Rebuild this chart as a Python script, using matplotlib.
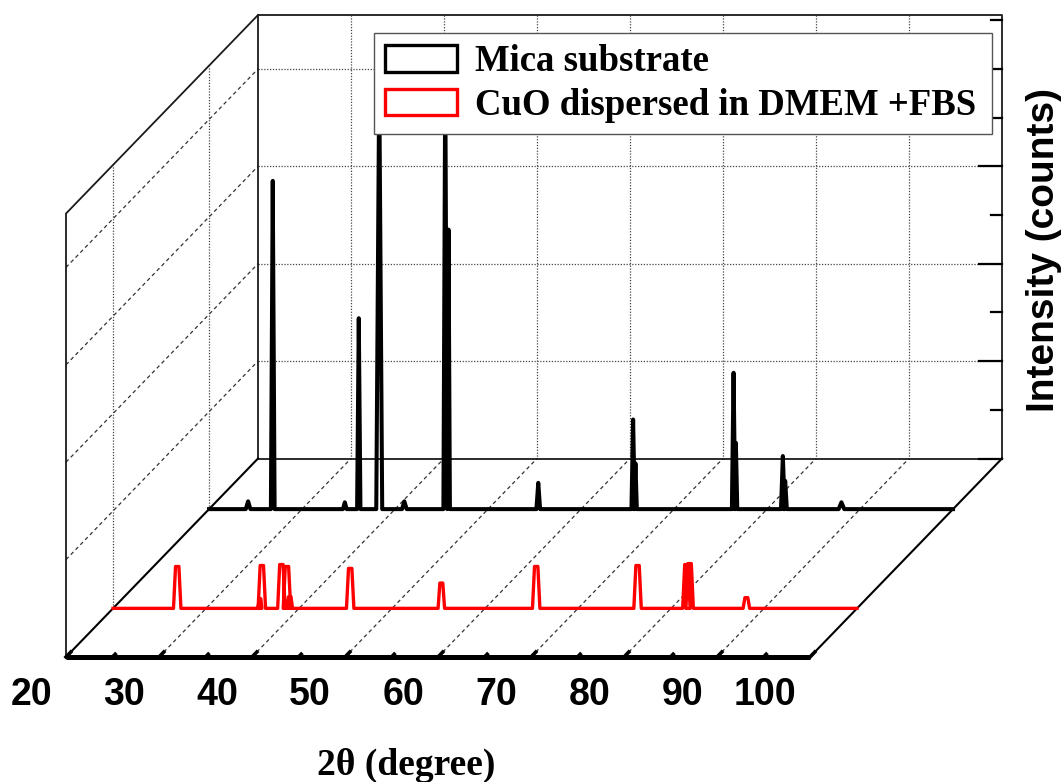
import numpy as np
import matplotlib.pyplot as plt
from matplotlib.transforms import Affine2D
from matplotlib.patches import Patch

# XRD patterns: peak centre (2theta), height (counts), half width at base (deg)
mica_pos = [24.2, 26.85, 34.6, 36.1, 38.3, 41.0, 45.4, 45.75, 55.4, 65.6, 65.85, 76.4, 76.65, 81.7, 81.95, 88.0]
mica_int = [80, 3370, 70, 1960, 4400, 80, 4500, 2870, 270, 920, 470, 1400, 680, 545, 290, 70]
mica_hw = [0.25, 0.2, 0.2, 0.18, 0.32, 0.25, 0.2, 0.15, 0.2, 0.18, 0.15, 0.18, 0.15, 0.2, 0.18, 0.3]

cuo_pos = [26.9, 35.8, 36.0, 38.1, 38.7, 39.0, 45.5, 55.3, 65.5, 76.4, 81.65, 82.0, 88.1]
cuo_int = [430, 100, 440, 450, 430, 120, 410, 260, 430, 440, 450, 460, 110]
cuo_hw = [0.4, 0.2, 0.4, 0.4, 0.4, 0.3, 0.4, 0.35, 0.4, 0.4, 0.4, 0.4, 0.35]

labels = ['Mica substrate', 'CuO dispersed in DMEM +FBS']
colors = ['black', 'red']
depths = [0.745, 0.245]          # position of each pattern along the depth axis

x_min, x_max = 20, 100
x_major = list(range(20, 101, 10))
x_minor = list(range(25, 100, 10))
y_top = 4553
y_major = [0, 1000, 2000, 3000, 4000]
y_minor = [500, 1500, 2500, 3500, 4500]

# oblique projection (pixel units)
X0, Y0 = 66, 657      # front-left-bottom corner
SX = 9.3              # px per degree
SY = 0.0974           # px per count
DX, DY = 192, -198.5  # shift for full depth

fig = plt.figure(figsize=(10.64, 7.82), dpi=100)
ax = fig.add_axes([0, 0, 1, 1])
ax.set_xlim(0, 1064)
ax.set_ylim(782, 0)
ax.axis('off')


def layer(d):
    # (2theta, counts) at depth d
    m = np.array([[SX, 0, X0 - x_min * SX + d * DX],
                  [0, -SY, Y0 + d * DY],
                  [0, 0, 1]])
    return Affine2D(m) + ax.transData


side = Affine2D(np.array([[DX, 0, X0], [DY, -SY, Y0], [0, 0, 1]])) + ax.transData   # (depth, counts)
floor = Affine2D(np.array([[SX, DX, X0 - x_min * SX], [0, DY, Y0], [0, 0, 1]])) + ax.transData  # (2theta, depth)
back = layer(1.0)

dotted = dict(color='#444444', lw=0.9, ls=(0, (1, 1.3)), zorder=1)
dashed = dict(color='#333333', lw=0.9, ls=(0, (3, 2.5)), zorder=1)
edge = dict(color='#1a1a1a', lw=1.3, zorder=2)

# grids
for t in x_major[1:-1]:
    ax.plot([t, t], [0, y_top], transform=back, **dotted)
    ax.plot([t, t], [0, 1], transform=floor, **dashed)
for c in y_major[1:]:
    ax.plot([x_min, x_max], [c, c], transform=back, **dotted)
    ax.plot([0, 1], [c, c], transform=side, **dashed)
for d in depths:
    ax.plot([d, d], [0, y_top], transform=side, **dotted)

# box edges
ax.plot([x_min, x_min, x_max, x_max, x_min], [0, y_top, y_top, 0, 0], transform=back, **edge)
ax.plot([0, 0, 1], [0, y_top, y_top], transform=side, **edge)
ax.plot([x_min, x_min], [0, 1], transform=floor, color='black', lw=1.5, zorder=2)
ax.plot([x_max, x_max], [0, 1], transform=floor, color='black', lw=1.5, zorder=2)

# intensity ticks on the back right edge
for c in y_major:
    ax.plot([x_max - 2.5, x_max], [c, c], transform=back, color='black', lw=1.6, zorder=2)
for c in y_minor:
    ax.plot([x_max - 1.2, x_max], [c, c], transform=back, color='black', lw=1.6, zorder=2)


def pattern(pos, hgt, hw, top):
    xs, ys = [x_min], [0]
    for p, h, w in zip(pos, hgt, hw):
        xs += [p - w, p - w * top, p + w * top, p + w]
        ys += [0, h, h, 0]
    xs.append(x_max)
    ys.append(0)
    return xs, ys


xs, ys = pattern(mica_pos, mica_int, mica_hw, 0.0)
ax.plot(xs, ys, transform=layer(depths[0]), color=colors[0], lw=2.9,
        solid_joinstyle='round', zorder=3)
xs, ys = pattern(cuo_pos, cuo_int, cuo_hw, 0.45)
ax.plot(xs, ys, transform=layer(depths[1]), color=colors[1], lw=2.4,
        solid_joinstyle='round', zorder=3)

# front 2theta axis
ax.plot([x_min, x_max], [0, 0], transform=floor, color='black', lw=3.6,
        solid_capstyle='butt', zorder=4)
for t in x_major:
    ax.plot([t, t], [0, 0.025], transform=floor, color='black', lw=2.6, zorder=4)
for t in x_minor:
    ax.plot([t, t], [0, 0.014], transform=floor, color='black', lw=2.6, zorder=4)
for t in x_major:
    ax.text(t - 1.5, -390, str(t), transform=layer(0), ha='right', va='center',
            family='Liberation Sans', weight='bold', fontsize=27)

ax.text(406, 765, '2θ (degree)', ha='center', va='center',
        family='Liberation Serif', weight='bold', fontsize=27)
ax.text(1044, 250, 'Intensity (counts)', rotation=90, ha='center', va='center',
        family='Liberation Sans', weight='bold', fontsize=28)

handles = [Patch(facecolor='none', edgecolor=c, linewidth=2.4) for c in colors]
leg = ax.legend(handles, labels, loc='upper left',
                bbox_to_anchor=(374 / 1064, 1 - 33 / 782, 618 / 1064, 0), mode='expand',
                borderaxespad=0, prop=dict(family='Liberation Serif', weight='bold', size=26.5),
                handlelength=1.95, handleheight=0.74, handletextpad=0.5,
                borderpad=0.3, labelspacing=0.24, fancybox=False, framealpha=1,
                edgecolor='#555555')
leg.get_frame().set_linewidth(1.0)
leg.set_zorder(5)

plt.savefig('out.png', dpi=100)
